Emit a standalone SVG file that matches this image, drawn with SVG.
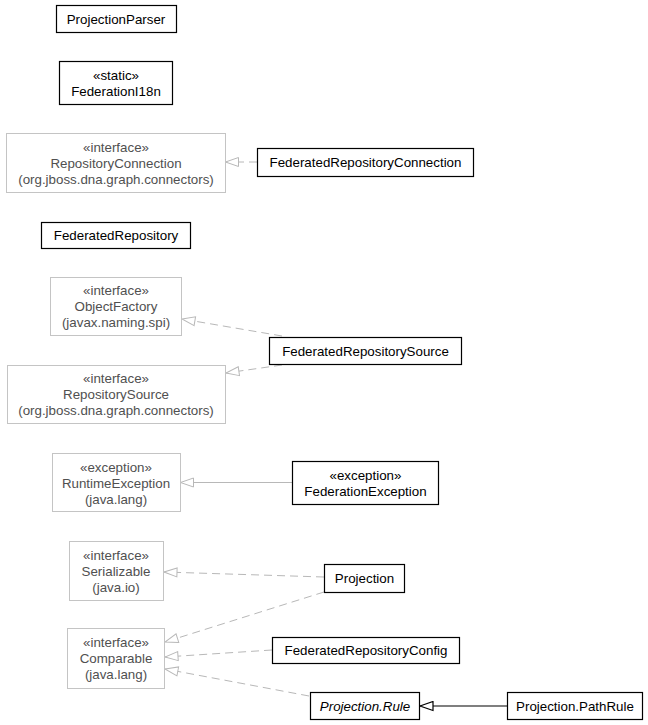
<svg xmlns="http://www.w3.org/2000/svg" width="648" height="725" viewBox="0 0 648 725">
<style>
  text { font-family: "Liberation Sans", Arial, sans-serif; font-size: 13.33px; text-anchor: middle; }
  .cls rect { fill: #ffffff; stroke: #000000; stroke-width: 1.2; }
  .cls text { fill: #000000; }
  .ext rect { fill: #ffffff; stroke: #c4c4c4; stroke-width: 1; }
  .ext text { fill: #505050; }
  .it { font-style: italic; }
  .dash { fill: none; stroke: #b8b8b8; stroke-width: 1; stroke-dasharray: 8,5; marker-end: url(#tri-gray); }
  .solid-gray { fill: none; stroke: #b8b8b8; stroke-width: 1; marker-end: url(#tri-gray); }
  .solid-black { fill: none; stroke: #000000; stroke-width: 1.2; marker-end: url(#tri-black); }
</style>
<defs>
  <marker id="tri-gray" viewBox="0 0 15 11" refX="14" refY="5.5" markerWidth="15" markerHeight="11" markerUnits="userSpaceOnUse" orient="auto">
    <path d="M1,1 L14,5.5 L1,10 Z" fill="#ffffff" stroke="#b8b8b8" stroke-width="1"/>
  </marker>
  <marker id="tri-black" viewBox="0 0 15 11" refX="14" refY="5.5" markerWidth="15" markerHeight="11" markerUnits="userSpaceOnUse" orient="auto">
    <path d="M1,1 L14,5.5 L1,10 Z" fill="#ffffff" stroke="#000000" stroke-width="1.2"/>
  </marker>
</defs>
<rect x="0" y="0" width="648" height="725" fill="#ffffff"/>

<g id="connectors">
  <path class="dash" d="M257,162 L225.5,162"/>
  <path class="dash" d="M282,336 L182,319"/>
  <path class="dash" d="M282,365 L226,373"/>
  <path class="solid-gray" d="M292,482.5 L180.5,482.5"/>
  <path class="dash" d="M324,577 L164,572"/>
  <path class="dash" d="M324,592 L165,642"/>
  <path class="dash" d="M272,650 L165,657"/>
  <path class="dash" d="M309,696 L165,669"/>
  <path class="solid-black" d="M507,706 L420,706"/>
</g>

<g id="ProjectionParser" class="cls">
  <rect x="56.5" y="5.5" width="120" height="27"/>
  <text x="116" y="23.5">ProjectionParser</text>
</g>
<g id="FederationI18n" class="cls">
  <rect x="59.5" y="61.5" width="113" height="43"/>
  <text x="116" y="79.5">«static»</text>
  <text x="116" y="95.5">FederationI18n</text>
</g>
<g id="RepositoryConnection" class="ext">
  <rect x="6.5" y="133.5" width="219" height="59"/>
  <text x="116" y="151.5">«interface»</text>
  <text x="116" y="167.5">RepositoryConnection</text>
  <text x="116" y="183.5">(org.jboss.dna.graph.connectors)</text>
</g>
<g id="FederatedRepositoryConnection" class="cls">
  <rect x="257.5" y="148.5" width="216" height="28"/>
  <text x="365.5" y="167">FederatedRepositoryConnection</text>
</g>
<g id="FederatedRepository" class="cls">
  <rect x="41.5" y="222.5" width="149" height="26"/>
  <text x="116" y="240">FederatedRepository</text>
</g>
<g id="ObjectFactory" class="ext">
  <rect x="50.5" y="277.5" width="131" height="58"/>
  <text x="116" y="295">«interface»</text>
  <text x="116" y="311">ObjectFactory</text>
  <text x="116" y="327">(javax.naming.spi)</text>
</g>
<g id="FederatedRepositorySource" class="cls">
  <rect x="269.5" y="337.5" width="192" height="27"/>
  <text x="365.5" y="355.5">FederatedRepositorySource</text>
</g>
<g id="RepositorySource" class="ext">
  <rect x="7.5" y="365.5" width="218" height="58"/>
  <text x="116" y="383">«interface»</text>
  <text x="116" y="399">RepositorySource</text>
  <text x="116" y="415">(org.jboss.dna.graph.connectors)</text>
</g>
<g id="RuntimeException" class="ext">
  <rect x="52.5" y="453.5" width="128" height="58"/>
  <text x="116" y="471.5">«exception»</text>
  <text x="116" y="487.5">RuntimeException</text>
  <text x="116" y="503.5">(java.lang)</text>
</g>
<g id="FederationException" class="cls">
  <rect x="292.5" y="461.5" width="146" height="43"/>
  <text x="365.5" y="479.5">«exception»</text>
  <text x="365.5" y="495.5">FederationException</text>
</g>
<g id="Serializable" class="ext">
  <rect x="69.5" y="541.5" width="94" height="59"/>
  <text x="116" y="559.5">«interface»</text>
  <text x="116" y="575.5">Serializable</text>
  <text x="116" y="591.5">(java.io)</text>
</g>
<g id="Projection" class="cls">
  <rect x="324.5" y="564.5" width="80" height="28"/>
  <text x="364.5" y="583">Projection</text>
</g>
<g id="Comparable" class="ext">
  <rect x="67.5" y="628.5" width="97" height="60"/>
  <text x="116" y="647">«interface»</text>
  <text x="116" y="663">Comparable</text>
  <text x="116" y="679">(java.lang)</text>
</g>
<g id="FederatedRepositoryConfig" class="cls">
  <rect x="272.5" y="637.5" width="187" height="26"/>
  <text x="366" y="655">FederatedRepositoryConfig</text>
</g>
<g id="ProjectionRule" class="cls">
  <rect x="310.5" y="692.5" width="109" height="27"/>
  <text class="it" x="365" y="710.5">Projection.Rule</text>
</g>
<g id="ProjectionPathRule" class="cls">
  <rect x="507.5" y="692.5" width="135" height="27"/>
  <text x="575" y="710.5">Projection.PathRule</text>
</g>
</svg>
